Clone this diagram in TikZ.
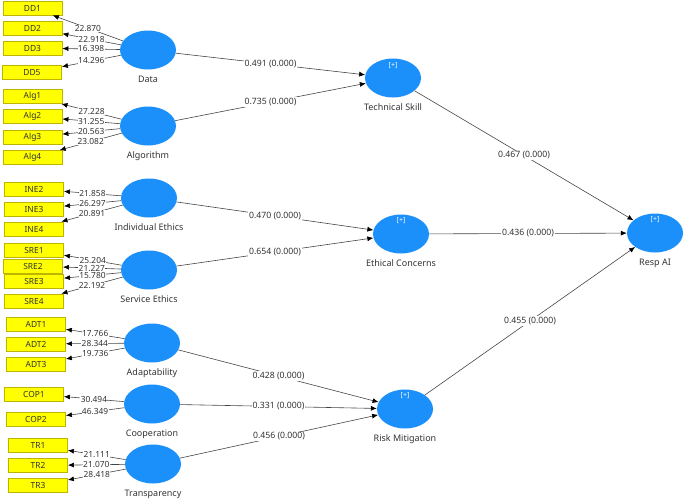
\documentclass[tikz,border=0pt]{standalone}
\usepackage{fontspec}
\setmainfont{Noto Sans}
\usetikzlibrary{shapes.geometric,arrows.meta}
\definecolor{boxyellow}{HTML}{FFFF00}
\definecolor{boxborder}{HTML}{BDB500}
\definecolor{lvblue}{HTML}{1B8FFA}
\definecolor{linegray}{HTML}{454545}
\definecolor{textgray}{HTML}{333333}
\tikzset{
  ind/.style={draw=boxborder, line width=0.8pt, fill=boxyellow, minimum width=59pt, minimum height=14pt,
    inner sep=0pt, font=\fontsize{8.4}{10}\selectfont, text=textgray},
  lv/.style={ellipse, fill=lvblue, minimum width=56pt, minimum height=39pt, inner sep=0pt,
    label={[lvname]below:#1}},
  lvname/.style={font=\fontsize{9}{11}\selectfont, text=textgray, label distance=5pt, inner sep=0pt,
    text height=1.5ex, text depth=.3ex},
  plus/.style={font=\fontsize{7}{8}\selectfont, text=white, inner sep=0pt},
  ld/.style={fill=white, inner sep=0.4pt, font=\fontsize{8.4}{10}\selectfont, text=textgray},
  pc/.style={fill=white, inner sep=1pt, font=\fontsize{8.7}{10}\selectfont, text=textgray},
  arr/.style={draw=linegray, line width=0.6pt, -{Latex[length=6pt,width=5pt,color=black]}},
}
\begin{document}
\begin{tikzpicture}[x=1pt,y=-1pt]
\useasboundingbox (0,0) rectangle (685,501);
% indicators
\node[ind] (dd1) at (32.5,8) {DD1};
\node[ind] (dd2) at (32.5,28) {DD2};
\node[ind] (dd3) at (32.5,48) {DD3};
\node[ind] (dd5) at (32,72.5) {DD5};
\node[ind] (alg1) at (32.5,96.5) {Alg1};
\node[ind] (alg2) at (32.5,116.5) {Alg2};
\node[ind] (alg3) at (32.5,137) {Alg3};
\node[ind] (alg4) at (32.5,157.5) {Alg4};
\node[ind] (ine2) at (34,189) {INE2};
\node[ind] (ine3) at (34,209) {INE3};
\node[ind] (ine4) at (34,229) {INE4};
\node[ind] (sre1) at (34,250) {SRE1};
\node[ind] (sre3) at (34,281) {SRE3};
\node[ind] (sre2) at (33,266) {SRE2};
\node[ind] (sre4) at (34,301) {SRE4};
\node[ind] (adt1) at (36,324.5) {ADT1};
\node[ind] (adt2) at (36,344) {ADT2};
\node[ind] (adt3) at (36,364.5) {ADT3};
\node[ind] (cop1) at (34,394) {COP1};
\node[ind] (cop2) at (36,419.5) {COP2};
\node[ind] (tr1) at (38,445.5) {TR1};
\node[ind] (tr2) at (38,465.5) {TR2};
\node[ind] (tr3) at (38,485.5) {TR3};
% latent variables
\node[lv=Data] (data) at (148,50) {};
\node[lv=Algorithm] (alg) at (148,126) {};
\node[lv=Individual Ethics] (ie) at (149,198) {};
\node[lv=Service Ethics] (se) at (149,270) {};
\node[lv=Adaptability] (adapt) at (152,343) {};
\node[lv=Cooperation] (coop) at (152,404) {};
\node[lv=Transparency] (transp) at (153,464) {};
\node[lv=Technical Skill] (ts) at (393,78) {};
\node[lv=Ethical Concerns] (ec) at (401,234) {};
\node[lv=Risk Mitigation] (rm) at (405,409) {};
\node[lv=Resp AI] (resp) at (655,233) {};
\node[plus] (tsplus) at (393,66) {[+]};
\node[plus] (ecplus) at (401,221) {[+]};
\node[plus] (rmplus) at (405,396) {[+]};
\node[plus] (respplus) at (655,220) {[+]};
% outer loadings
\draw[arr] (data) -- node[ld]{22.870} (dd1);
\draw[arr] (data) -- node[ld]{22.918} (dd2);
\draw[arr] (data) -- node[ld]{16.398} (dd3);
\draw[arr] (data) -- node[ld]{14.296} (dd5);
\draw[arr] (alg) -- node[ld]{27.228} (alg1);
\draw[arr] (alg) -- node[ld]{31.255} (alg2);
\draw[arr] (alg) -- node[ld]{20.563} (alg3);
\draw[arr] (alg) -- node[ld]{23.082} (alg4);
\draw[arr] (ie) -- node[ld]{21.858} (ine2);
\draw[arr] (ie) -- node[ld]{26.297} (ine3);
\draw[arr] (ie) -- node[ld]{20.891} (ine4);
\draw[arr] (se) -- node[ld]{25.204} (sre1);
\draw[arr] (se) -- node[ld]{21.227} (sre2);
\draw[arr] (se) -- node[ld]{15.780} (sre3);
\draw[arr] (se) -- node[ld]{22.192} (sre4);
\draw[arr] (adapt) -- node[ld]{17.766} (adt1);
\draw[arr] (adapt) -- node[ld]{28.344} (adt2);
\draw[arr] (adapt) -- node[ld]{19.736} (adt3);
\draw[arr] (coop) -- node[ld]{30.494} (cop1);
\draw[arr] (coop) -- node[ld]{46.349} (cop2);
\draw[arr] (transp) -- node[ld]{21.111} (tr1);
\draw[arr] (transp) -- node[ld]{21.070} (tr2);
\draw[arr] (transp) -- node[ld]{28.418} (tr3);
% structural paths
\draw[arr] (data) -- node[pc]{0.491 (0.000)} (ts);
\draw[arr] (alg) -- node[pc]{0.735 (0.000)} (ts);
\draw[arr] (ie) -- node[pc]{0.470 (0.000)} (ec);
\draw[arr] (se) -- node[pc]{0.654 (0.000)} (ec);
\draw[arr] (adapt) -- node[pc]{0.428 (0.000)} (rm);
\draw[arr] (coop) -- node[pc]{0.331 (0.000)} (rm);
\draw[arr] (transp) -- node[pc]{0.456 (0.000)} (rm);
\draw[arr] (ts) -- node[pc]{0.467 (0.000)} (resp);
\draw[arr] (ec) -- node[pc]{0.436 (0.000)} (resp);
\draw[arr] (rm) -- node[pc]{0.455 (0.000)} (resp);
\end{tikzpicture}
\end{document}
